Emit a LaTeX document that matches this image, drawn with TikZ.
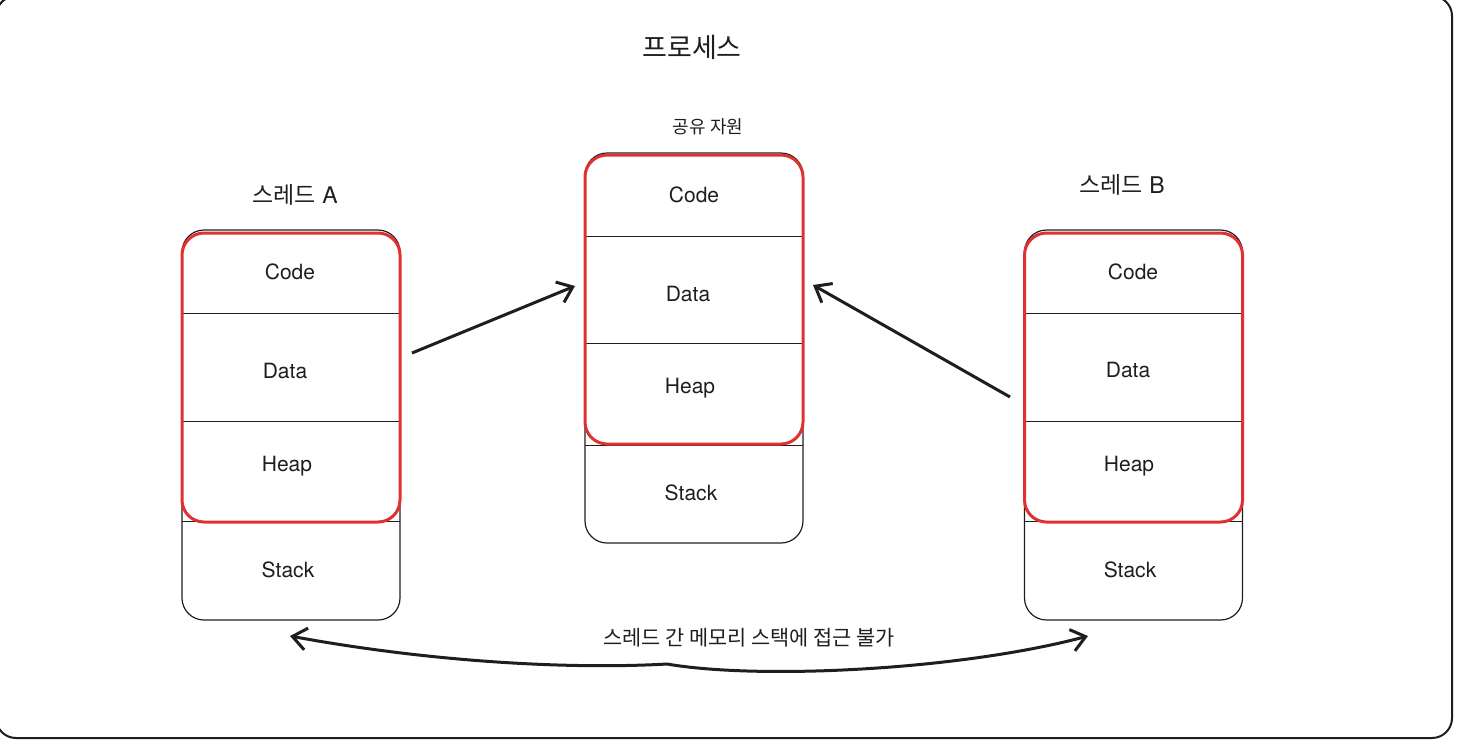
\documentclass[tikz,border=0pt]{standalone}
\usepackage{fontspec}
\setmainfont{TeX Gyre Heros}
\newfontfamily\kor{Noto Sans CJK KR}
\usetikzlibrary{arrows.meta}
\definecolor{ink}{HTML}{1E1E1E}
\definecolor{exred}{HTML}{E03131}
\tikzset{
    membox/.style={draw=ink, line width=0.6pt, rounded corners=11pt, minimum width=109pt, minimum height=195pt, inner sep=0pt},
    shared/.style={draw=exred, line width=1.5pt, rounded corners=11pt, minimum width=109pt, minimum height=144.5pt, inner sep=0pt},
    part/.style={text=ink, font=\fontsize{10.5}{12}\selectfont},
    caption/.style={text=ink, font=\fontsize{11.5}{13}\selectfont},
    link/.style={ink, line width=1.5pt, -{Straight Barb[length=7pt,width=11pt]}},
}

\begin{document}
\begin{tikzpicture}[x=0.5pt, y=-0.5pt]
        \useasboundingbox (0,0) rectangle (1460,740);
        % outer frame
        \draw[ink, line width=1pt, rounded corners=10pt] (-4,-4) rectangle (1452,738);
        \node[text=ink, font=\fontsize{13.5}{15}\selectfont\kor] (Title) at (692,47) {프로세스};

        % thread A
        \node[membox] (ThreadA) at (291,425) {};
        \draw[ink, line width=0.5pt] (182,313) -- (400,313);
        \draw[ink, line width=0.5pt] (182,421) -- (400,421);
        \draw[ink, line width=0.5pt] (182,521) -- (400,521);
        \node[shared] (ThreadAShared) at (291,377.5) {};
        \node[caption] (ThreadALabel) at (295,195) {{\kor 스레드} A};
        \node[part] (ACode) at (290,272) {Code};
        \node[part] (AData) at (285,371) {Data};
        \node[part] (AHeap) at (287,466) {Heap};
        \node[part] (AStack) at (288,570) {Stack};

        % shared resources
        \node[membox] (Shared) at (694,348) {};
        \draw[ink, line width=0.5pt] (585,236) -- (803,236);
        \draw[ink, line width=0.5pt] (585,343) -- (803,343);
        \draw[ink, line width=0.5pt] (585,445) -- (803,445);
        \node[shared] (SharedRes) at (694,299.5) {};
        \node[text=ink, font=\fontsize{9}{11}\selectfont\kor] (SharedLabel) at (708,127) {공유 자원};
        \node[part] (SCode) at (694,195) {Code};
        \node[part] (SData) at (688,294) {Data};
        \node[part] (SHeap) at (690,388) {Heap};
        \node[part] (SStack) at (691,493) {Stack};

        % thread B
        \node[membox] (ThreadB) at (1133.5,425) {};
        \draw[ink, line width=0.5pt] (1024,313) -- (1243,313);
        \draw[ink, line width=0.5pt] (1024,421) -- (1243,421);
        \draw[ink, line width=0.5pt] (1024,521) -- (1243,521);
        \node[shared] (ThreadBShared) at (1133.5,377.5) {};
        \node[caption] (ThreadBLabel) at (1122,185) {{\kor 스레드} B};
        \node[part] (BCode) at (1133,272) {Code};
        \node[part] (BData) at (1128,370) {Data};
        \node[part] (BHeap) at (1129,466) {Heap};
        \node[part] (BStack) at (1130,570) {Stack};

        % connectors
        \coordinate (AOut) at (412,353);
        \coordinate (SInA) at (575,286);
        \coordinate (BOut) at (1010,397);
        \coordinate (SInB) at (813,285);
        \coordinate (AStackEnd) at (290,636);
        \coordinate (BStackEnd) at (1088,636);
        \draw[link] (AOut) -- (SInA);
        \draw[link] (BOut) -- (SInB);
        \draw[link, {Straight Barb[length=7pt,width=11pt]}-{Straight Barb[length=7pt,width=11pt]}]
            (AStackEnd) .. controls (420,660) and (560,670) .. (667,664)
            .. controls (760,680) and (960,670) .. (BStackEnd);
        \node[text=ink, font=\fontsize{10.4}{12}\selectfont\kor] (NoAccess) at (749,638) {스레드 간 메모리 스택에 접근 불가};
\end{tikzpicture}
\end{document}
